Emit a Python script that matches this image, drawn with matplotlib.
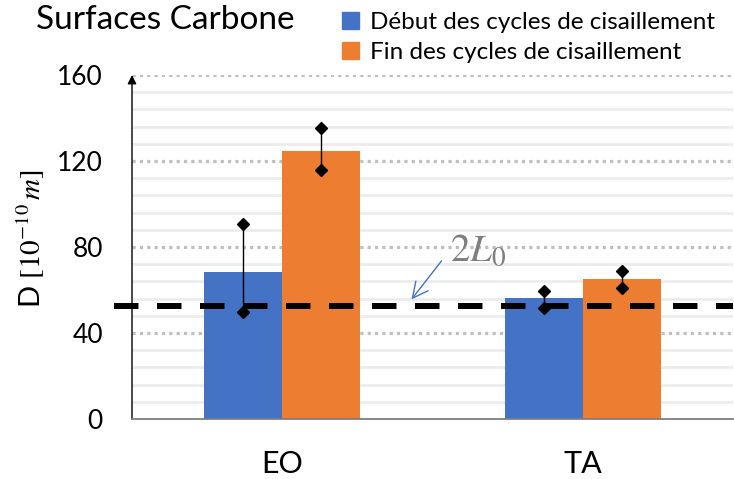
import matplotlib
matplotlib.use("Agg")
import matplotlib.pyplot as plt
from matplotlib.patches import Patch
import numpy as np

# mesures de D (en 1e-10 m)
categories = ["EO", "TA"]
debut = [68.2, 56.1]
fin = [124.8, 65.0]
debut_min = [49.9, 51.5]
debut_max = [90.7, 59.7]
fin_min = [116.0, 60.8]
fin_max = [135.2, 68.7]
two_l0 = 52.6

bleu = "#4472C4"
orange = "#ED7D31"

plt.rcParams["font.family"] = ["Lato", "DejaVu Sans"]
plt.rcParams["mathtext.fontset"] = "stix"

fig = plt.figure(figsize=(7.34, 4.79), dpi=100)
ax = fig.add_axes([132 / 734, 1 - 419 / 479, 601 / 734, 344 / 479])

x = np.arange(len(categories)) + 0.5
w = 0.26

# grille : mineure pleine claire, majeure pointillée
for v in np.arange(8, 160, 8):
    if v % 40:
        ax.axhline(v, color="#ececec", lw=2, zorder=0)
for v in [40, 80, 120, 160]:
    ax.axhline(v, color="#bfbfbf", lw=2.3, ls=(0, (1, 1.3)), zorder=0.5)

ax.bar(x - w / 2, debut, w, color=bleu, zorder=2, label="Début des cycles de cisaillement")
ax.bar(x + w / 2, fin, w, color=orange, zorder=2, label="Fin des cycles de cisaillement")

# barres d'erreur avec losanges aux extrémités
for xs, lo, hi in [(x - w / 2, debut_min, debut_max), (x + w / 2, fin_min, fin_max)]:
    ax.vlines(xs, lo, hi, color="black", lw=1, zorder=4)
    ax.plot(xs, lo, "D", color="black", ms=6, zorder=5)
    ax.plot(xs, hi, "D", color="black", ms=6, zorder=5)

# niveau 2L0
ax.axhline(two_l0, xmin=-0.03, xmax=1, color="black", lw=4.3, ls=(0, (4.1, 3.1)),
           solid_capstyle="butt", dash_capstyle="butt", clip_on=False, zorder=3)

ax.set_xlim(0, 2)
ax.set_ylim(0, 160)
ax.set_yticks([0, 40, 80, 120, 160])
ax.set_xticks(x)
ax.set_xticklabels(categories)
ax.tick_params(axis="y", length=0, labelsize=19, pad=21)
ax.tick_params(axis="x", length=0, labelsize=22, pad=22)

for s in ["top", "right", "left"]:
    ax.spines[s].set_visible(False)
ax.spines["bottom"].set_color("#7f7f7f")
ax.spines["bottom"].set_linewidth(1.3)
ax.spines["bottom"].set_zorder(6)

# axe vertical fléché
ax.annotate("", xy=(0, 1.0), xytext=(0, 0), xycoords="axes fraction",
            arrowprops=dict(arrowstyle="-|>", color="black", lw=1, mutation_scale=13,
                            shrinkA=0, shrinkB=0), annotation_clip=False)

ax.annotate(r"$2L_0$", xy=(0.465, two_l0 + 3.0), xycoords=("axes fraction", "data"),
            xytext=(450 / 734, 1 - 250 / 479), textcoords="figure fraction",
            fontsize=28, color="#7f7f7f", va="center", ha="left",
            arrowprops=dict(arrowstyle="->", color=bleu, lw=1, shrinkA=0, shrinkB=0,
                            relpos=(-0.15, 0.2)))

fig.text(31 / 734, 1 - 239 / 479, r"D $[10^{-10}\,m]$", rotation=90,
         ha="center", va="center", fontsize=21)
fig.text(36 / 734, 1 - 20 / 479, "Surfaces Carbone", fontsize=24, va="center", ha="left")

fig.legend(handles=[Patch(color=bleu), Patch(color=orange)],
           labels=["Début des cycles de cisaillement", "Fin des cycles de cisaillement"],
           loc="upper left", bbox_to_anchor=(323 / 734, 1 + 7 / 479), frameon=False,
           fontsize=17.5, handlelength=0.7, handleheight=0.7, handletextpad=0.45,
           labelspacing=0.35, borderpad=0.3)

fig.savefig("out.png", dpi=100)
